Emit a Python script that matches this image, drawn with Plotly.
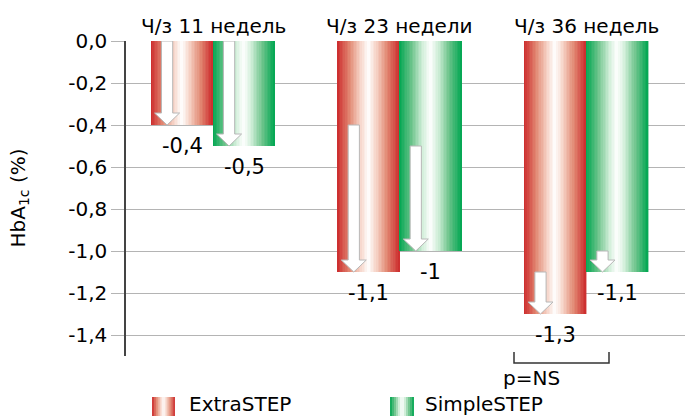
import plotly.graph_objects as go

# ---- data ----
groups = ["Ч/з 11 недель", "Ч/з 23 недели", "Ч/з 36 недель"]
series_names = ["ExtraSTEP", "SimpleSTEP"]
extra_values = [-0.4, -1.1, -1.3]
simple_values = [-0.5, -1.0, -1.1]
y_tickvals = [0.0, -0.2, -0.4, -0.6, -0.8, -1.0, -1.2, -1.4]
y_ticktext = ["0,0", "-0,2", "-0,4", "-0,6", "-0,8", "-1,0", "-1,2", "-1,4"]
p_label = "p=NS"

# ---- style ----
FONT = "DejaVu Sans"
BAR_W = 0.332
N_STRIPS = 40
RED_STOPS = [(0.0, (255, 255, 255)), (0.25, (246, 212, 200)), (0.6, (226, 138, 116)), (1.0, (204, 42, 44))]
GREEN_STOPS = [(0.0, (255, 255, 255)), (0.25, (208, 238, 216)), (0.6, (110, 196, 140)), (1.0, (0, 166, 81))]


def color_at(stops, s):
    for (s0, c0), (s1, c1) in zip(stops[:-1], stops[1:]):
        if s <= s1:
            f = (s - s0) / (s1 - s0)
            c = [round(a + (b - a) * f) for a, b in zip(c0, c1)]
            return f"rgb({c[0]},{c[1]},{c[2]})"
    c = stops[-1][1]
    return f"rgb({c[0]},{c[1]},{c[2]})"


def gradient_bars(name, values, left, stops):
    """One bar per group, painted as narrow vertical strips for a mirrored gradient."""
    sw = BAR_W / N_STRIPS
    xs, ys, offs, widths, cols = [], [], [], [], []
    for gi, v in enumerate(values):
        for k in range(N_STRIPS):
            t = (k + 0.5) / N_STRIPS
            xs.append(gi)
            ys.append(v)
            offs.append(left + k * sw)
            widths.append(sw * 1.25 if k < N_STRIPS - 1 else sw)
            cols.append(color_at(stops, abs(2 * t - 1)))
    return go.Bar(
        name=name, x=xs, y=ys, offset=offs, width=widths,
        marker=dict(color=cols, line=dict(width=0)),
        showlegend=False, hoverinfo="skip",
    )


def fmt(v):
    return f"{v:g}".replace(".", ",")


fig = go.Figure()
fig.add_trace(gradient_bars(series_names[0], extra_values, -BAR_W, RED_STOPS))
fig.add_trace(gradient_bars(series_names[1], simple_values, 0.0, GREEN_STOPS))

shapes = []
annotations = []

# down arrows showing the change since the previous time point
SHAFT_HW = 0.03
HEAD_HW = 0.067
HEAD_H = 0.057
ARROW_DX = 0.086
for values, left in ((extra_values, -BAR_W), (simple_values, 0.0)):
    prev = 0.0
    for gi, v in enumerate(values):
        xc = gi + left + ARROW_DX
        yh = v + HEAD_H
        path = (f"M {xc - SHAFT_HW},{prev} L {xc + SHAFT_HW},{prev} L {xc + SHAFT_HW},{yh} "
                f"L {xc + HEAD_HW},{yh} L {xc},{v} L {xc - HEAD_HW},{yh} L {xc - SHAFT_HW},{yh} Z")
        shapes.append(dict(type="path", xref="x", yref="y", path=path,
                           fillcolor="white", line=dict(color="#b8b8b8", width=1), layer="above"))
        prev = v

# value labels under each bar
for values, left in ((extra_values, -BAR_W), (simple_values, 0.0)):
    for gi, v in enumerate(values):
        annotations.append(dict(x=gi + left + BAR_W / 2, y=v, xref="x", yref="y", text=fmt(v),
                                showarrow=False, yshift=-21, yanchor="middle",
                                font=dict(family=FONT, size=21, color="black")))

# group titles
for gi, g in enumerate(groups):
    annotations.append(dict(x=gi, y=1.047, xref="x", yref="paper", text=g, showarrow=False,
                            yanchor="middle", font=dict(family=FONT, size=20, color="black")))

# axis title
annotations.append(dict(x=(18 - 126) / 559, y=0.5, xref="paper", yref="paper",
                        text="HbA<sub>1c</sub> (%)", textangle=-90, showarrow=False,
                        xanchor="center", yanchor="middle",
                        font=dict(family=FONT, size=20, color="black")))

# significance bracket
bx0, bx1 = (514 - 126) / 559, (609 - 126) / 559
by_top, by_bot = (356 - 352) / 315, (356 - 363) / 315
shapes.append(dict(type="path", xref="paper", yref="paper",
                   path=f"M {bx0},{by_top} L {bx0},{by_bot} L {bx1},{by_bot} L {bx1},{by_top}",
                   line=dict(color="#333333", width=1.5)))
annotations.append(dict(x=(bx0 + bx1) / 2, y=(356 - 378) / 315, xref="paper", yref="paper",
                        text=p_label, showarrow=False, yanchor="middle",
                        font=dict(family=FONT, size=20, color="black")))

# legend with gradient swatches
legend_items = [(series_names[0], RED_STOPS, 152, 175, 187), (series_names[1], GREEN_STOPS, 390, 414, 423)]
ly0, ly1 = (356 - 397) / 315, (356 - 418) / 315
for name, stops, sx0, sx1, tx in legend_items:
    n = 12
    step = (sx1 - sx0) / n
    for k in range(n):
        t = (k + 0.5) / n
        x0 = (sx0 + k * step - 126) / 559
        x1 = (sx0 + (k + 1.2) * step - 126) / 559 if k < n - 1 else (sx1 - 126) / 559
        shapes.append(dict(type="rect", xref="paper", yref="paper", x0=x0, x1=x1, y0=ly0, y1=ly1,
                           fillcolor=color_at(stops, abs(2 * t - 1)), line=dict(width=0)))
    annotations.append(dict(x=(tx - 126) / 559, y=(356 - 404) / 315, xref="paper", yref="paper",
                            text=name, showarrow=False, xanchor="left", yanchor="middle",
                            font=dict(family=FONT, size=20, color="black")))

fig.update_layout(
    width=685, height=416,
    margin=dict(l=126, r=0, t=41, b=60),
    paper_bgcolor="white", plot_bgcolor="white",
    barmode="overlay",
    showlegend=False,
    shapes=shapes, annotations=annotations,
    xaxis=dict(range=[-0.466, 2.528], visible=False, fixedrange=True),
    yaxis=dict(range=[-1.5, 0], tickvals=y_tickvals, ticktext=y_ticktext,
               showgrid=True, gridcolor="#b4b4b4", gridwidth=1.3, zeroline=False,
               ticks="outside", ticklen=13, tickcolor="#b4b4b4", tickwidth=1.3,
               showline=True, linecolor="#444444", linewidth=1.5,
               tickfont=dict(family=FONT, size=20, color="black"), fixedrange=True),
)

fig.write_html("out.html")
